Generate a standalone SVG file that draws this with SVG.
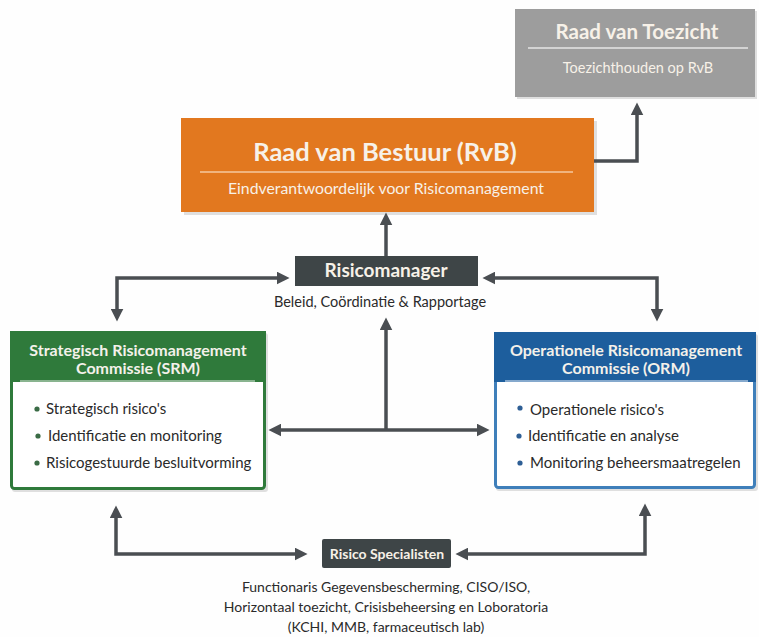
<svg xmlns="http://www.w3.org/2000/svg" width="759" height="637" viewBox="0 0 759 637">
<style>
text{font-family:Lato,"Open Sans","Liberation Sans",sans-serif}
.w{fill:#f7f1e8}
.b{font-weight:bold}
.ttl{font-size:16px;font-weight:bold;fill:#f4f1ea;text-anchor:middle}
.item{font-size:15px;fill:#2a2a2a}
.dot{fill:#3a6b45}
.dotb{fill:#2e5f95}
.con{fill:none;stroke:#4a4e52;stroke-width:3.5}
.sh{fill:#000;opacity:0.12}
</style>
<defs>
<marker id="ah" viewBox="0 0 12 12" refX="5" refY="6" markerWidth="13" markerHeight="13" markerUnits="userSpaceOnUse" orient="auto-start-reverse">
<path d="M0,0 L12,6 L0,12 z" fill="#4a4e52"/>
</marker>
</defs>
<rect width="759" height="637" fill="#fefefe"/>

<g id="rvt">
<rect x="517" y="11" width="240" height="88" class="sh"/>
<rect x="515" y="9" width="240" height="88" fill="#9d9d9d"/>
<text x="637" y="39" text-anchor="middle" font-size="20.5" class="b w">Raad van Toezicht</text>
<line x1="528" y1="48" x2="748" y2="48" stroke="#e6e6e6" stroke-width="1.5"/>
<text x="638" y="73" text-anchor="middle" font-size="14.5" class="w">Toezichthouden op RvB</text>
</g>

<g id="rvb">
<rect x="184" y="121" width="413" height="94" class="sh"/>
<rect x="181" y="118" width="413" height="94" fill="#e2781f"/>
<text x="385" y="161" text-anchor="middle" font-size="25.5" class="b w">Raad van Bestuur (RvB)</text>
<line x1="200" y1="172" x2="573" y2="172" stroke="#f5c9a0" stroke-width="1.5"/>
<text x="386" y="194" text-anchor="middle" font-size="15.8" class="w">Eindverantwoordelijk voor Risicomanagement</text>
</g>

<g id="risicomanager">
<rect x="295" y="256" width="183" height="30" fill="#3e4547"/>
<text x="386" y="277" text-anchor="middle" font-size="19" class="b w">Risicomanager</text>
<text x="380" y="307" text-anchor="middle" font-size="14.5" fill="#2a2a2a">Beleid, Coördinatie &amp; Rapportage</text>
</g>

<g id="srm">
<rect x="12" y="333" width="256" height="159" rx="3" class="sh"/>
<rect x="11.5" y="332.5" width="253" height="156" rx="3" fill="#fff" stroke="#2f7a3b" stroke-width="3"/>
<rect x="10" y="331" width="256" height="51" fill="#2f7a3b"/>
<line x1="20" y1="381" x2="255" y2="381" stroke="#a8c8ad" stroke-width="1.5"/>
<text x="138" y="356" class="ttl">Strategisch Risicomanagement</text>
<text x="138" y="374" class="ttl">Commissie (SRM)</text>
<circle cx="37" cy="409" r="2.6" class="dot"/>
<text x="46" y="414" class="item">Strategisch risico's</text>
<circle cx="38" cy="436" r="2.6" class="dot"/>
<text x="48" y="441" class="item">Identificatie en monitoring</text>
<circle cx="37" cy="463" r="2.6" class="dot"/>
<text x="46" y="468" class="item">Risicogestuurde besluitvorming</text>
</g>

<g id="orm">
<rect x="496" y="334" width="262" height="157" rx="3" class="sh"/>
<rect x="495.5" y="333.5" width="259" height="154" rx="3" fill="#fff" stroke="#3f7fba" stroke-width="3"/>
<rect x="494" y="332" width="262" height="50" fill="#1d5e9d"/>
<line x1="505" y1="381" x2="748" y2="381" stroke="#a9c3de" stroke-width="1.5"/>
<text x="626" y="356" class="ttl">Operationele Risicomanagement</text>
<text x="626" y="374" class="ttl">Commissie (ORM)</text>
<circle cx="520" cy="408" r="2.6" class="dotb"/>
<text x="530" y="415" class="item">Operationele risico's</text>
<circle cx="519" cy="436" r="2.6" class="dotb"/>
<text x="528" y="441" class="item">Identificatie en analyse</text>
<circle cx="520" cy="463" r="2.6" class="dotb"/>
<text x="530" y="468" class="item">Monitoring beheersmaatregelen</text>
</g>

<g id="specialisten">
<rect x="322" y="539" width="129" height="29" rx="2" fill="#3e4547"/>
<text x="387" y="559" text-anchor="middle" font-size="14" class="b w">Risico Specialisten</text>
<text x="386" y="592" text-anchor="middle" font-size="14" fill="#2a2a2a">Functionaris Gegevensbescherming, CISO/ISO,</text>
<text x="386" y="612" text-anchor="middle" font-size="14" fill="#2a2a2a">Horizontaal toezicht, Crisisbeheersing en Loboratoria</text>
<text x="386" y="632" text-anchor="middle" font-size="14" fill="#2a2a2a">(KCHI, MMB, farmaceutisch lab)</text>
</g>

<g id="connectors">
<path class="con" d="M594,161 H637 V110" marker-end="url(#ah)"/>
<path class="con" d="M386,256 V220" marker-end="url(#ah)"/>
<path class="con" d="M117,314 V278 H282" marker-start="url(#ah)" marker-end="url(#ah)"/>
<path class="con" d="M490,278 H657 V314" marker-start="url(#ah)" marker-end="url(#ah)"/>
<path class="con" d="M386,430 V325" marker-end="url(#ah)"/>
<path class="con" d="M276,430 H482" marker-start="url(#ah)" marker-end="url(#ah)"/>
<path class="con" d="M116,513 V554 H300" marker-start="url(#ah)" marker-end="url(#ah)"/>
<path class="con" d="M463,554 H645 V511" marker-start="url(#ah)" marker-end="url(#ah)"/>
</g>
</svg>
